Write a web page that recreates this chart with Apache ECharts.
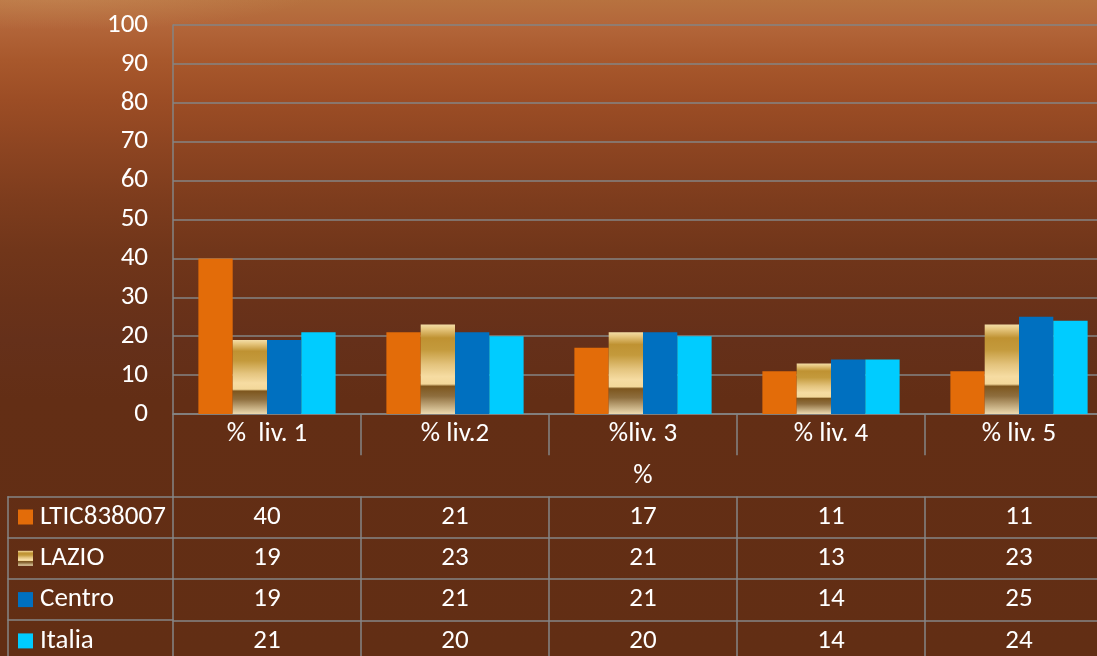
<!DOCTYPE html>
<html>
<head>
<meta charset="utf-8">
<script src="https://cdn.jsdelivr.net/npm/echarts@6/dist/echarts.min.js"></script>
<style>
html,body{margin:0;padding:0;width:1097px;height:656px;overflow:hidden;}
#c{width:1097px;height:656px;
background:
 radial-gradient(ellipse 260px 40px at 60px -10px, rgba(215,160,110,0.35), rgba(215,160,110,0) 100%),
 linear-gradient(to bottom,#b7723f 0px,#b3663a 25px,#a8582c 60px,#9c4d25 100px,#8c4421 150px,#7d3c1d 200px,#71361a 250px,#6a3219 300px,#65301a 340px,#632e15 400px,#622e14 656px);}
</style>
</head>
<body>
<div id="c"></div>
<script>
var categories = ['%  liv. 1', '% liv.2', '%liv. 3', '% liv. 4', '% liv. 5'];
var seriesNames = ['LTIC838007', 'LAZIO', 'Centro', 'Italia'];
var ltic = [40, 21, 17, 11, 11];
var lazio = [19, 23, 21, 13, 23];
var centro = [19, 21, 21, 14, 25];
var italia = [21, 20, 20, 14, 24];
var yTicks = [0, 10, 20, 30, 40, 50, 60, 70, 80, 90, 100];
var tableHeader = ['%'];

var FONT = 'Carlito, Calibri, Lato, "Open Sans", sans-serif';
var GRIDC = '#858585';
var ROWH = 41.3;
var FS = 27;
var LM = 7;

var goldGrad = new echarts.graphic.LinearGradient(0, 0, 0, 1, [
  {offset: 0, color: '#f3dda6'},
  {offset: 0.05, color: '#e6c67e'},
  {offset: 0.15, color: '#bf9232'},
  {offset: 0.28, color: '#c49a3c'},
  {offset: 0.45, color: '#e4c47e'},
  {offset: 0.58, color: '#f6dca2'},
  {offset: 0.665, color: '#f3d89a'},
  {offset: 0.69, color: '#7d561e'},
  {offset: 0.8, color: '#8e6e3e'},
  {offset: 1, color: '#ecdab0'}
]);

var colors = ['#e36c09', goldGrad, '#0070c0', '#00ccff'];
var values = [ltic, lazio, centro, italia];

var xAxes = [];
var grids = [
  {left: 173, width: 940, top: 25, height: 389, containLabel: false, outerBoundsMode: 'none'},
  {left: 8, width: 165, top: 400, height: 414 + 2 * ROWH - 400 - 0.3, containLabel: false, outerBoundsMode: 'none'}
];

function lbl() {
  return {interval: 0, color: '#fff', fontSize: FS, fontFamily: FONT, margin: LM};
}
var lineSt = {color: GRIDC, width: 1.5};

// main category axis
xAxes.push({
  type: 'category', gridIndex: 0, data: categories, position: 'bottom',
  axisLine: {show: true, lineStyle: lineSt},
  axisTick: {show: true, interval: 0, length: ROWH, lineStyle: lineSt},
  axisLabel: lbl()
});
// "%" header row
xAxes.push({
  type: 'category', gridIndex: 0, data: tableHeader, position: 'bottom', offset: ROWH,
  axisLine: {show: false},
  axisTick: {show: true, interval: 0, length: ROWH, lineStyle: lineSt},
  axisLabel: lbl()
});
// value rows
values.forEach(function (arr, i) {
  xAxes.push({
    type: 'category', gridIndex: 0, data: arr.map(String), position: 'bottom', offset: ROWH * (2 + i),
    axisLine: {show: true, lineStyle: lineSt},
    axisTick: {show: true, interval: 0, length: ROWH, lineStyle: lineSt},
    axisLabel: lbl()
  });
});
// left legend column frame
values.forEach(function (arr, i) {
  xAxes.push({
    type: 'category', gridIndex: 1, data: [''], position: 'bottom', offset: ROWH * i,
    axisLine: {show: true, lineStyle: lineSt},
    axisTick: {show: true, interval: 0, length: ROWH, lineStyle: lineSt},
    axisLabel: {show: false}
  });
});

var series = seriesNames.map(function (n, i) {
  return {
    name: n, type: 'bar', xAxisIndex: 0, yAxisIndex: 0,
    data: values[i],
    barGap: '0%', barCategoryGap: '27%',
    itemStyle: {color: colors[i]},
    z: 3
  };
});

var legends = seriesNames.map(function (n, i) {
  return {
    data: [n], orient: 'vertical', left: 18, top: 517 - 13.5 + ROWH * i,
    padding: 0,
    itemWidth: 15, itemHeight: 15, icon: 'rect',
    selectedMode: false,
    textStyle: {color: '#fff', fontSize: FS, fontFamily: FONT, lineHeight: 27, padding: [0, 0, 0, 2]}
  };
});

var chart = echarts.init(document.getElementById('c'), null, {renderer: 'canvas'});
chart.setOption({
  backgroundColor: 'transparent',
  animation: false,
  grid: grids,
  legend: legends,
  xAxis: xAxes,
  yAxis: [
    {
      type: 'value', gridIndex: 0, min: yTicks[0], max: yTicks[yTicks.length - 1], interval: 10,
      axisLine: {show: true, lineStyle: lineSt},
      axisTick: {show: false},
      splitLine: {show: true, lineStyle: lineSt},
      axisLabel: {color: '#fff', fontSize: FS, fontFamily: FONT, margin: 25}
    },
    {type: 'value', gridIndex: 1, show: false, splitLine: {show: false}}
  ],
  series: series
});
</script>
</body>
</html>
